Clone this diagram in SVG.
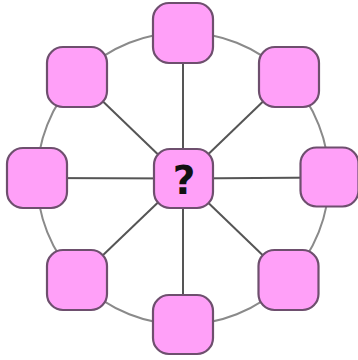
<svg xmlns="http://www.w3.org/2000/svg" width="358" height="360" viewBox="0 0 358 360">
<style>
.node{fill:#ffa0f8;stroke:#6e4f6e;stroke-width:2.2}
.spoke{stroke:#555;stroke-width:2;fill:none}
.ring{stroke:#8a8a8a;stroke-width:2;fill:none}
.lbl{font-family:"DejaVu Sans",sans-serif;font-weight:bold;font-size:39px;fill:#111;text-anchor:middle}
</style>
<rect width="358" height="360" fill="#fff"/>
<g id="connectors">
<circle class="ring" cx="183" cy="178.5" r="146"/>
<line class="spoke" x1="183" y1="178.5" x2="183" y2="33"/>
<line class="spoke" x1="183" y1="178.5" x2="289" y2="76.5"/>
<line class="spoke" x1="183" y1="178.5" x2="330" y2="177.5"/>
<line class="spoke" x1="183" y1="178.5" x2="288.5" y2="280"/>
<line class="spoke" x1="183" y1="178.5" x2="183" y2="325"/>
<line class="spoke" x1="183" y1="178.5" x2="77" y2="280"/>
<line class="spoke" x1="183" y1="178.5" x2="37" y2="178"/>
<line class="spoke" x1="183" y1="178.5" x2="77" y2="76.5"/>
</g>
<g id="n-top"><rect class="node" x="153" y="3" width="60" height="60" rx="16"/></g>
<g id="n-topright"><rect class="node" x="259" y="47" width="60" height="60" rx="16"/></g>
<g id="n-right"><rect class="node" x="300.5" y="147.5" width="58" height="59" rx="16"/></g>
<g id="n-bottomright"><rect class="node" x="258.5" y="250" width="60" height="60" rx="16"/></g>
<g id="n-bottom"><rect class="node" x="153" y="295" width="60" height="59" rx="16"/></g>
<g id="n-bottomleft"><rect class="node" x="47" y="250" width="60" height="60" rx="16"/></g>
<g id="n-left"><rect class="node" x="7" y="148" width="60" height="60" rx="16"/></g>
<g id="n-topleft"><rect class="node" x="47" y="47" width="60" height="60" rx="16"/></g>
<g id="n-center"><rect class="node" x="154" y="149" width="59" height="59" rx="16"/><text class="lbl" x="184" y="194">?</text></g>
</svg>
